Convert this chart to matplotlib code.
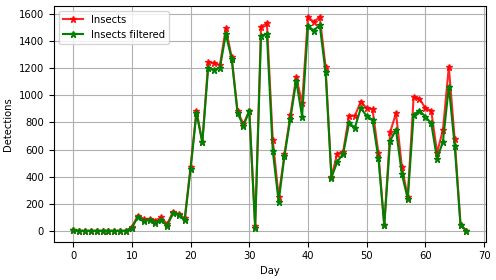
import matplotlib
matplotlib.use("Agg")
import matplotlib.pyplot as plt

days = list(range(68))

insects = [7, 0, 0, 0, 0, 0, 0, 0, 0, 0,
           29, 113, 88, 88, 76, 101, 49, 142, 123, 93,
           474, 887, 655, 1244, 1236, 1224, 1494, 1280, 885, 787,
           885, 39, 1506, 1531, 671, 253, 568, 855, 1133, 941,
           1580, 1538, 1580, 1211, 400, 570, 585, 850, 850, 953,
           905, 897, 573, 44, 728, 868, 474, 248, 986, 975,
           905, 887, 577, 745, 1211, 676, 44, 2]

insects_filtered = [7, 0, 0, 0, 0, 0, 0, 0, 0, 0,
                    24, 101, 76, 81, 61, 81, 37, 130, 118, 81,
                    457, 868, 652, 1204, 1187, 1204, 1450, 1268, 868, 774,
                    885, 24, 1440, 1452, 590, 216, 555, 826, 1106, 843,
                    1511, 1477, 1519, 1170, 393, 511, 568, 794, 762, 905,
                    848, 818, 536, 40, 664, 745, 420, 236, 855, 887,
                    843, 794, 531, 659, 1064, 629, 40, 2]

plt.rcParams['font.size'] = 7.2

fig = plt.figure(figsize=(4.96, 2.8), dpi=100)
ax = fig.add_axes([0.108, 0.137, 0.872, 0.842])
ax.plot(days, insects, 'r*-', label='Insects', alpha=0.85, markersize=5)
ax.plot(days, insects_filtered, 'g*-', label='Insects filtered', markersize=5)
ax.set_xlabel('Day', labelpad=3)
ax.set_ylabel('Detections')
ax.grid(True)
ax.legend(loc='upper left')
ax.set_yticks(range(0, 1601, 200))
fig.savefig('out.png', dpi=100)
